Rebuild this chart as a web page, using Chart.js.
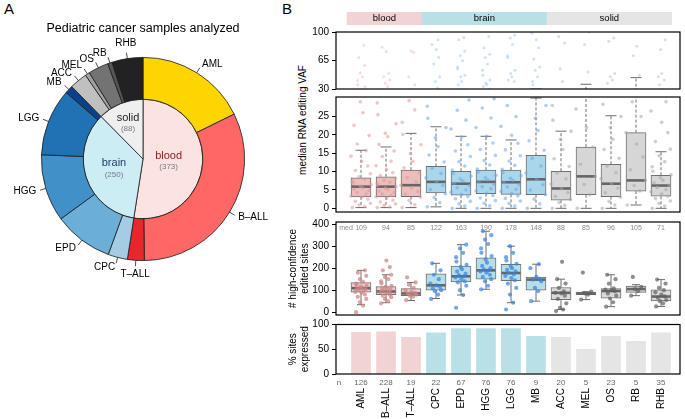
<!DOCTYPE html>
<html>
<head>
<meta charset="utf-8">
<script src="https://cdn.jsdelivr.net/npm/chart.js@4.4.1/dist/chart.umd.min.js"></script>
<style>
body { margin: 0; width: 685px; height: 419px; background: #fff; position: relative; overflow: hidden; font-family: "Liberation Sans", Arial, sans-serif; }
canvas { position: absolute; }
.tag { position: absolute; font-size: 15px; color: #000; }
#vafTitle { position: absolute; left: 302px; top: 120px; font-size: 10px; white-space: nowrap; transform: translate(-50%, -50%) rotate(-90deg); }
</style>
</head>
<body>
<div class="tag" style="left:4px;top:0px">A</div>
<div class="tag" style="left:282px;top:0px">B</div>
<div id="vafTitle">median RNA editing VAF</div>
<canvas id="donut" style="left:0;top:0" width="285" height="300"></canvas>
<canvas id="vafTop" style="left:255px;top:0" width="430" height="93"></canvas>
<canvas id="vafLow" style="left:255px;top:93px" width="430" height="123"></canvas>
<canvas id="sites" style="left:255px;top:218px" width="430" height="101"></canvas>
<canvas id="expr" style="left:255px;top:318px" width="430" height="101"></canvas>
<script>
// categories and groups
const cats = ['AML', 'B–ALL', 'T–ALL', 'CPC', 'EPD', 'HGG', 'LGG', 'MB', 'ACC', 'MEL', 'OS', 'RB', 'RHB'];
const catGroup = [0, 0, 0, 1, 1, 1, 1, 1, 2, 2, 2, 2, 2];
const groupNames = ['blood', 'brain', 'solid'];
const groupCounts = [373, 250, 88];
const nSamples = [126, 228, 19, 22, 67, 76, 76, 9, 20, 5, 23, 5, 35];
const donutTitle = 'Pediatric cancer samples analyzed';

// median RNA editing VAF boxes
const vafQ1 = [3.1, 3.1, 3.2, 4.2, 3.6, 4.0, 3.8, 3.7, 2.2, 3.7, 3.2, 4.7, 3.3];
const vafMed = [5.9, 5.9, 6.3, 7.2, 6.7, 7.2, 7.1, 7.9, 5.4, 8.7, 6.7, 7.6, 6.2];
const vafQ3 = [8.3, 8.6, 10.4, 11.4, 10.1, 10.4, 10.4, 14.4, 10.1, 16.7, 12.0, 20.6, 9.0];
const vafLo = [0.2, 0.2, 0.2, 0.4, 0, 0, 0, 0, 0, 0, 0, 0.9, 0];
const vafHi = [15.8, 16.7, 20.4, 22.2, 19.6, 19.6, 18.6, 30, 21, 35.8, 25.2, 44, 15.4];
const vafPts = [
  [0.2, 0.5, 0.9, 1.4, 1.9, 2.5, 3.0, 3.4, 3.9, 4.3, 4.8, 5.2, 5.6, 6.0, 6.4, 6.9, 7.4, 8.0, 8.6, 9.4, 10.3, 11.5, 12.8, 14.2, 15.7, 17.5, 19.8, 22.6, 26, 29, 33.2, 35.1, 40.3, 45.0, 49.8, 58.8, 68.7, 83.7],
  [0.2, 0.4, 0.8, 1.2, 1.7, 2.2, 2.7, 3.1, 3.5, 3.9, 4.3, 4.7, 5.1, 5.5, 5.9, 6.3, 6.7, 7.1, 7.6, 8.2, 8.9, 9.7, 10.6, 11.6, 12.8, 14.1, 15.6, 17.4, 19.5, 20.4, 23, 25.5, 28.7, 33.2, 37, 41, 45, 49, 75.9, 81.4],
  [0.2, 1.0, 2.1, 3.0, 3.8, 4.6, 5.5, 6.3, 7.2, 8.4, 9.6, 11, 12.8, 14.9, 17.3, 20.1, 23.4, 26.8, 29.3, 35.1, 45, 74.7, 76.6],
  [0.4, 1.5, 2.9, 4.0, 5.1, 6.2, 7.2, 8.3, 9.5, 10.9, 12.6, 14.5, 16.8, 19.2, 22, 24.5, 27.8, 31.2, 39.1, 45, 60.8, 68.8, 78.6, 84.6, 90.5],
  [0, 0.6, 1.2, 1.9, 2.6, 3.2, 3.8, 4.4, 5.0, 5.6, 6.2, 6.8, 7.4, 8.0, 8.7, 9.5, 10.4, 11.5, 12.7, 14.1, 15.6, 17.3, 19.4, 21.6, 24, 26.7, 29.5, 35.1, 39.1, 45, 47, 54.9, 56.9, 64.8, 70.7, 76.6, 90.5, 93.2],
  [0, 0.7, 1.4, 2.1, 2.8, 3.5, 4.1, 4.7, 5.3, 5.9, 6.5, 7.1, 7.7, 8.3, 9.0, 9.8, 10.7, 11.8, 13.0, 14.4, 16, 17.8, 19.6, 22, 24.6, 27.3, 29.8, 33.2, 35.1, 37.1, 41, 47, 52.9, 60.8, 68.8, 72.7, 80.6, 94.4],
  [0, 0.6, 1.3, 2.0, 2.7, 3.4, 4.0, 4.6, 5.2, 5.8, 6.4, 7.0, 7.6, 8.2, 8.9, 9.7, 10.6, 11.7, 12.9, 14.3, 15.9, 17.7, 19.9, 22.3, 25, 28, 39.1, 41, 45, 49, 52.9, 68.8, 70.7, 84.6, 92.5, 96.4],
  [0, 1.2, 2.5, 3.7, 5.0, 6.4, 7.9, 9.6, 11.5, 13.6, 15.8, 18.4, 21.2, 24.5, 28, 35.1, 39.1, 45, 52.9, 56.9, 66.8, 80.6, 90.5, 98.4],
  [0, 0.8, 1.6, 2.4, 3.3, 4.3, 5.4, 6.6, 8.0, 9.6, 11.4, 13.5, 16, 18.8, 21, 24, 28, 39.1, 54.9, 86.6, 94.4],
  [0, 3.7, 6.5, 8.7, 12, 16.7, 22, 27, 51, 84.6, 100],
  [0, 0.9, 1.9, 3.0, 4.2, 5.5, 6.7, 8.1, 9.7, 11.5, 13.6, 16, 18.8, 21.9, 25, 28.3, 37.1, 41, 45, 49, 88.5, 92.5],
  [0.9, 4.7, 6.2, 7.6, 10.5, 14, 17.5, 20.6, 25, 29, 47, 70.7, 82.6],
  [0, 0.6, 1.3, 2.0, 2.7, 3.3, 3.9, 4.5, 5.1, 5.7, 6.3, 6.9, 7.6, 8.3, 9.1, 10.1, 11.3, 12.7, 14.3, 16.1, 18.2, 20.6, 23.4, 26.5, 29, 35.1, 41, 45, 49, 78.6, 90.5]
];

// # high-confidence edited sites boxes
const hcQ1 = [91, 79, 75, 100, 138, 150, 143, 100, 57, 79, 63, 90, 51];
const hcMed = [109, 94, 85, 122, 163, 190, 178, 148, 88, 85, 96, 105, 71];
const hcQ3 = [134, 116, 107, 174, 210, 247, 218, 160, 112, 91, 107, 119, 101];
const hcLo = [34, 43, 53, 62, 78, 104, 43, 50, 12, 57, 25, 75, 26];
const hcHi = [190, 170, 135, 222, 307, 368, 300, 218, 150, 93, 170, 125, 148];
const hcPts = [
  [0, 30, 45, 60, 70, 80, 88, 92, 96, 100, 104, 108, 112, 116, 120, 125, 130, 138, 150, 165, 180, 190],
  [40, 50, 60, 68, 75, 80, 85, 90, 94, 98, 102, 106, 110, 115, 120, 130, 140, 150, 160, 170, 190, 205, 235],
  [55, 70, 75, 80, 85, 88, 92, 100, 110, 125, 135, 158],
  [60, 80, 95, 100, 108, 115, 122, 130, 150, 170, 190, 222],
  [20, 78, 100, 120, 135, 140, 150, 158, 163, 168, 175, 185, 195, 205, 215, 230, 250, 270, 290, 307],
  [104, 120, 140, 150, 160, 170, 180, 185, 190, 195, 200, 210, 225, 240, 255, 270, 290, 310, 330, 350, 368],
  [12, 43, 80, 110, 130, 145, 155, 165, 172, 178, 185, 192, 200, 210, 220, 235, 250, 270, 300],
  [50, 95, 110, 140, 148, 150, 160, 200, 218],
  [5, 12, 20, 40, 60, 75, 85, 88, 95, 110, 130, 150, 229],
  [57, 80, 85, 93, 180],
  [25, 45, 62, 75, 85, 95, 100, 103, 108, 130, 150, 170],
  [75, 95, 105, 115, 160],
  [26, 40, 50, 55, 65, 72, 80, 90, 100, 110, 130, 148]
];

// % sites expressed
const pctExpressed = [84, 85, 74, 83, 92, 92, 92, 76, 74, 50, 76, 66, 83];

// tick labels
const topTicks = [30, 65, 100];
const vafTicks = [0, 5, 10, 15, 20, 25];
const hcTicks = [0, 100, 200, 300, 400];
const pctTicks = [0, 50, 100];

// colours
const subColors = ['#FFD500', '#FF6666', '#E8262B', '#A3CDE3', '#6BAED6', '#4190C8', '#2171B5', '#0A418E',
  '#C0C0C0', '#A2A2A2', '#737373', '#555555', '#222222'];
const groupFill = ['#FBE3E1', '#CDEDF5', '#EFEFEF'];
const groupText = ['#8B2222', '#1F3B6E', '#222222'];
const stripFill = ['#F2D3D3', '#B9DFE7', '#E5E5E5'];
const boxFillLow = ['#EBBDBD', '#A9D6EA', '#D6D6D6'];
const boxFillHc = ['#F2CBCB', '#B6DEE8', '#D9D9D9'];
const dotTop = ['rgba(232,160,160,0.35)', 'rgba(115,172,235,0.35)', 'rgba(170,170,170,0.4)'];
const dotLow = ['rgba(228,150,150,0.55)', 'rgba(105,165,235,0.55)', 'rgba(165,165,165,0.55)'];
const dotHc = ['rgba(205,135,135,0.75)', 'rgba(55,130,225,0.7)', 'rgba(95,95,95,0.7)'];

const FONT = '"Liberation Sans", Arial, sans-serif';
Chart.defaults.font.family = FONT;
Chart.defaults.font.size = 10;
Chart.defaults.color = '#000';
Chart.defaults.animation = false;
Chart.defaults.responsive = false;
Chart.defaults.plugins.legend.display = false;
Chart.defaults.plugins.tooltip.enabled = false;

const X_MAX = 13.76;
const JIT = [-0.28, 0.12, -0.06, 0.3, -0.18, 0.22, 0.02, -0.32, 0.16, -0.12, 0.26, -0.22, 0.06, -0.02, 0.32, -0.26];

const byGroup = arr => cats.map((c, i) => arr[catGroup[i]]);

function dots(values, spread, colors) {
  const data = [], col = [];
  values.forEach((arr, i) => arr.forEach((v, k) => {
    data.push({ x: i + 1 + JIT[k % JIT.length] * spread, y: v });
    col.push(colors[catGroup[i]]);
  }));
  return { data, col };
}

// axis labels must not push the plot area around
function noPad(s) {
  s.paddingTop = 0;
  s.paddingBottom = 0;
  s.paddingLeft = 0;
  s.paddingRight = 0;
}

function xAxis(show) {
  return {
    type: 'linear', min: 0, max: X_MAX, offset: false, display: show,
    afterBuildTicks: s => { s.ticks = cats.map((c, i) => ({ value: i + 1 })); },
    afterFit: s => { noPad(s); if (show) s.height = 45; },
    ticks: { callback: v => cats[v - 1], autoSkip: false, minRotation: 90, maxRotation: 90, padding: 6 },
    grid: { display: false },
    border: { display: false }
  };
}

function yAxis(min, max, ticks, title) {
  return {
    min, max,
    afterBuildTicks: s => { s.ticks = ticks.map(v => ({ value: v })); },
    afterFit: s => { noPad(s); s.width = 53; },
    ticks: { padding: 3 },
    grid: { drawOnChartArea: false, tickLength: 4, color: '#000' },
    border: { display: false },
    title: title ? { display: true, text: title, padding: { top: 4, bottom: 0 } } : { display: false }
  };
}

const frame = {
  id: 'frame',
  afterDraw(chart) {
    const { ctx, chartArea: a } = chart;
    ctx.save();
    ctx.strokeStyle = '#000';
    ctx.lineWidth = 1.2;
    ctx.strokeRect(a.left, a.top, a.width, a.height);
    ctx.restore();
  }
};

// whiskers under the boxes, medians over them
const boxes = {
  id: 'boxes',
  beforeDatasetsDraw(chart, args, o) {
    if (!o.hi) return;
    const { ctx, chartArea: a, scales: { x, y } } = chart;
    ctx.save();
    ctx.beginPath();
    ctx.rect(a.left, a.top, a.width, a.height);
    ctx.clip();
    ctx.strokeStyle = '#6e6e6e';
    ctx.lineWidth = 1;
    o.hi.forEach((hi, i) => {
      const px = x.getPixelForValue(i + 1);
      ctx.setLineDash(o.dash);
      ctx.beginPath();
      ctx.moveTo(px, y.getPixelForValue(o.q3[i]));
      ctx.lineTo(px, y.getPixelForValue(hi));
      ctx.moveTo(px, y.getPixelForValue(o.q1[i]));
      ctx.lineTo(px, y.getPixelForValue(o.lo[i]));
      ctx.stroke();
      ctx.setLineDash([]);
      ctx.beginPath();
      [hi, o.lo[i]].forEach(v => {
        const py = y.getPixelForValue(v);
        ctx.moveTo(px - o.cap, py);
        ctx.lineTo(px + o.cap, py);
      });
      ctx.stroke();
    });
    ctx.restore();
  },
  afterDatasetDraw(chart, args, o) {
    if (!o.med || args.meta.type !== 'bar') return;
    const { ctx, scales: { x, y } } = chart;
    ctx.save();
    ctx.strokeStyle = '#666';
    ctx.lineWidth = 2.6;
    o.med.forEach((m, i) => {
      const px = x.getPixelForValue(i + 1), py = y.getPixelForValue(m);
      ctx.beginPath();
      ctx.moveTo(px - 9.5, py);
      ctx.lineTo(px + 9.5, py);
      ctx.stroke();
    });
    ctx.restore();
  }
};

// donut: panel A
const donutText = {
  id: 'donutText',
  afterDraw(chart) {
    const { ctx } = chart;
    ctx.save();
    ctx.fillStyle = '#000';
    ctx.textBaseline = 'middle';
    ctx.textAlign = 'center';
    ctx.font = '12.5px ' + FONT;
    ctx.fillText(donutTitle, 143, 29);
    ctx.font = '10px ' + FONT;
    ctx.strokeStyle = '#000';
    ctx.lineWidth = 0.7;
    chart.getDatasetMeta(0).data.forEach((arc, i) => {
      const p = arc.getProps(['x', 'y', 'startAngle', 'endAngle', 'outerRadius'], true);
      const m = (p.startAngle + p.endAngle) / 2, c = Math.cos(m), s = Math.sin(m), r = p.outerRadius;
      ctx.beginPath();
      ctx.moveTo(p.x + c * r, p.y + s * r);
      ctx.lineTo(p.x + c * (r + 6), p.y + s * (r + 6));
      ctx.stroke();
      ctx.textAlign = c > 0.2 ? 'left' : (c < -0.2 ? 'right' : 'center');
      let ty = p.y + s * (r + 10);
      if (ctx.textAlign === 'center') ty += s > 0 ? 4 : -5;
      ctx.fillText(cats[i], p.x + c * (r + 10), ty);
    });
    const labelR = [0.43, 0.51, 0.66];
    ctx.textAlign = 'center';
    chart.getDatasetMeta(1).data.forEach((arc, i) => {
      const p = arc.getProps(['x', 'y', 'startAngle', 'endAngle', 'outerRadius'], true);
      const m = (p.startAngle + p.endAngle) / 2, r = p.outerRadius * labelR[i];
      const cx = p.x + Math.cos(m) * r, cy = p.y + Math.sin(m) * r;
      ctx.fillStyle = groupText[i];
      ctx.font = '11px ' + FONT;
      ctx.fillText(groupNames[i], cx, cy - 5);
      ctx.fillStyle = '#7a7a7a';
      ctx.font = '8px ' + FONT;
      ctx.fillText('(' + groupCounts[i] + ')', cx, cy + 6);
    });
    ctx.restore();
  }
};

new Chart(document.getElementById('donut'), {
  type: 'doughnut',
  data: {
    labels: cats,
    datasets: [
      { data: nSamples, backgroundColor: subColors, borderColor: '#1a1a1a', borderWidth: 0.8, weight: 42 },
      { data: groupCounts, backgroundColor: groupFill, borderColor: '#1a1a1a', borderWidth: 0.8, weight: 60 }
    ]
  },
  options: {
    cutout: 0,
    layout: { padding: { left: 41, top: 57, right: 40, bottom: 39 } }
  },
  plugins: [donutText]
});

// strips above panel B
const strips = {
  id: 'strips',
  afterDraw(chart) {
    const { ctx, chartArea: a, scales: { x } } = chart;
    ctx.save();
    ctx.font = '9.5px ' + FONT;
    ctx.textAlign = 'center';
    ctx.textBaseline = 'middle';
    groupNames.forEach((g, gi) => {
      const first = catGroup.indexOf(gi) + 1, last = catGroup.lastIndexOf(gi) + 1;
      const x0 = x.getPixelForValue(first - 0.57), x1 = x.getPixelForValue(last + 0.44);
      ctx.fillStyle = stripFill[gi];
      ctx.fillRect(x0, a.top - 20, x1 - x0, 13);
      ctx.fillStyle = '#000';
      ctx.fillText(g, (x0 + x1) / 2, a.top - 13.5);
    });
    ctx.restore();
  }
};

const topDots = dots(vafPts, 0.5, dotTop);
const lowDots = dots(vafPts, 1.25, dotLow);

new Chart(document.getElementById('vafTop'), {
  type: 'scatter',
  data: {
    datasets: [{ data: topDots.data, pointBackgroundColor: topDots.col, pointRadius: 1.5, pointBorderWidth: 0, clip: 0 }]
  },
  options: {
    layout: { padding: { left: 28, right: 5, top: 32, bottom: 2 } },
    scales: { x: xAxis(false), y: yAxis(30, 100, topTicks) },
    plugins: { boxes: { q1: vafQ1, q3: vafQ3, lo: vafLo, hi: vafHi, dash: [3, 2], cap: 5.5 } }
  },
  plugins: [boxes, frame, strips]
});

new Chart(document.getElementById('vafLow'), {
  type: 'bar',
  data: {
    datasets: [
      {
        type: 'bar', data: cats.map((c, i) => ({ x: i + 1, y: [vafQ1[i], vafQ3[i]] })),
        backgroundColor: byGroup(boxFillLow), borderColor: '#707070', borderWidth: 1, borderSkipped: false,
        barThickness: 20, grouped: false, order: 2
      },
      {
        type: 'scatter', data: lowDots.data, pointBackgroundColor: lowDots.col,
        pointRadius: 1.8, pointBorderWidth: 0, clip: 0, order: 1
      }
    ]
  },
  options: {
    layout: { padding: { left: 28, right: 5, top: 2, bottom: 2 } },
    scales: { x: xAxis(false), y: yAxis(-1, 30.3, vafTicks) },
    plugins: { boxes: { q1: vafQ1, q3: vafQ3, lo: vafLo, hi: vafHi, med: vafMed, dash: [3, 2], cap: 5.5 } }
  },
  plugins: [boxes, frame]
});

// med row
const medRow = {
  id: 'medRow',
  afterDraw(chart) {
    const { ctx, chartArea: a, scales: { x } } = chart;
    ctx.save();
    ctx.font = '7px ' + FONT;
    ctx.fillStyle = '#8a8a8a';
    ctx.textAlign = 'center';
    ctx.textBaseline = 'middle';
    ctx.fillText('med', x.getPixelForValue(0.4), a.top + 6);
    hcMed.forEach((m, i) => ctx.fillText(String(m), x.getPixelForValue(i + 1), a.top + 6));
    ctx.restore();
  }
};

const hcDots = dots(hcPts, 0.7, dotHc);

new Chart(document.getElementById('sites'), {
  type: 'bar',
  data: {
    datasets: [
      {
        type: 'bar', data: cats.map((c, i) => ({ x: i + 1, y: [hcQ1[i], hcQ3[i]] })),
        backgroundColor: byGroup(boxFillHc), borderColor: '#707070', borderWidth: 1, borderSkipped: false,
        barThickness: 20, grouped: false, order: 2
      },
      {
        type: 'scatter', data: hcDots.data, pointBackgroundColor: hcDots.col,
        pointRadius: 2.1, pointBorderWidth: 0, clip: 0, order: 1
      }
    ]
  },
  options: {
    layout: { padding: { left: 28, right: 5, top: 2.7, bottom: 2.3 } },
    scales: { x: xAxis(false), y: yAxis(-13, 410, hcTicks, ['# high-confidence', 'edited sites']) },
    plugins: { boxes: { q1: hcQ1, q3: hcQ3, lo: hcLo, hi: hcHi, med: hcMed, dash: [], cap: 4 } }
  },
  plugins: [boxes, frame, medRow]
});

// n row
const nRow = {
  id: 'nRow',
  afterDraw(chart) {
    const { ctx, chartArea: a, scales: { x } } = chart;
    ctx.save();
    ctx.font = '8px ' + FONT;
    ctx.fillStyle = '#666';
    ctx.textAlign = 'center';
    ctx.textBaseline = 'middle';
    ctx.fillText('n', x.getPixelForValue(0.12), a.bottom + 9);
    nSamples.forEach((n, i) => ctx.fillText(String(n), x.getPixelForValue(i + 1), a.bottom + 9));
    ctx.restore();
  }
};

new Chart(document.getElementById('expr'), {
  type: 'bar',
  data: {
    datasets: [{
      data: cats.map((c, i) => ({ x: i + 1, y: pctExpressed[i] })),
      backgroundColor: byGroup(stripFill), borderWidth: 0, barThickness: 19
    }]
  },
  options: {
    layout: { padding: { left: 28, right: 5, top: 6.5, bottom: 0 } },
    scales: { x: xAxis(true), y: yAxis(0, 100, pctTicks, ['% sites', 'expressed']) }
  },
  plugins: [frame, nRow]
});
</script>
</body>
</html>
